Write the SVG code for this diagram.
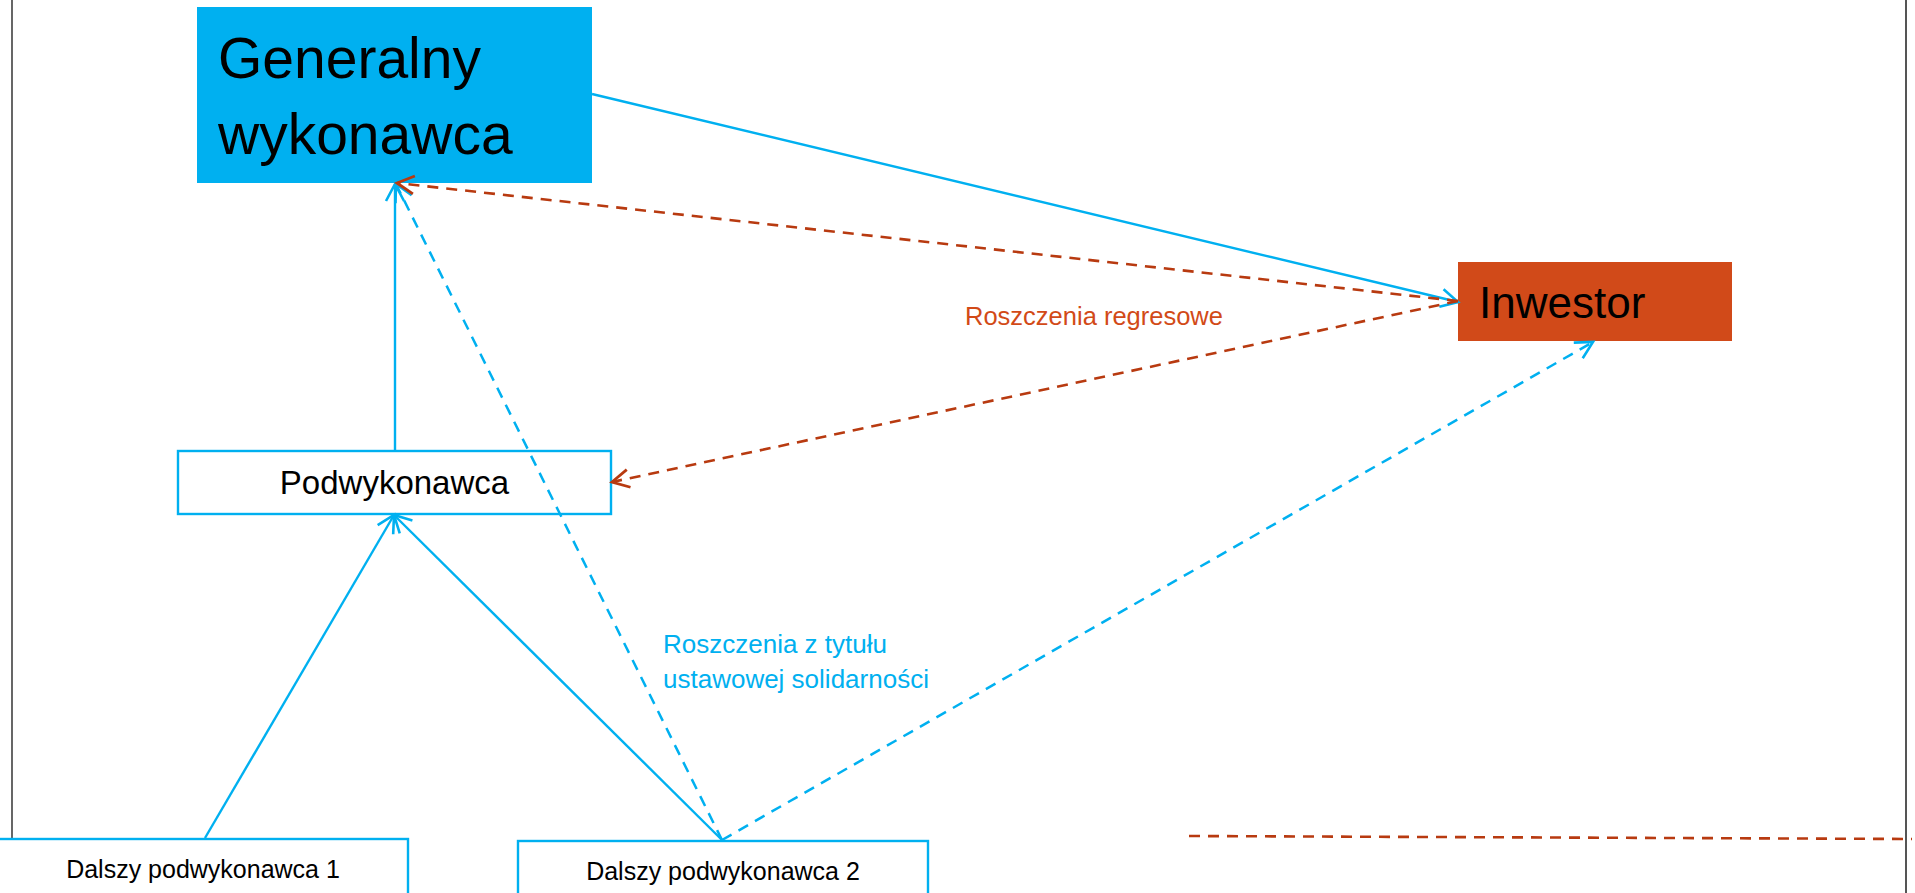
<svg xmlns="http://www.w3.org/2000/svg" width="1915" height="893" viewBox="0 0 1915 893">
<style>
text{font-family:"Liberation Sans",Arial,sans-serif;}
.blue{stroke:#00B0F0;stroke-width:2.4;fill:none;}
.bdash{stroke:#00B0F0;stroke-width:2.5;fill:none;stroke-dasharray:11 8;}
.rdash{stroke:#B83A10;stroke-width:2.6;fill:none;stroke-dasharray:11 8;}
.box{fill:#fff;stroke:#00B0F0;stroke-width:2.4;}
</style>
<defs>
<marker id="ab" markerUnits="userSpaceOnUse" markerWidth="40" markerHeight="40" refX="0" refY="0" viewBox="-20 -20 40 40" orient="auto" overflow="visible">
<path d="M-17,-9 L0,0 L-17,9" fill="none" stroke="#00B0F0" stroke-width="2.6" stroke-dasharray="none"/>
</marker>
<marker id="ar" markerUnits="userSpaceOnUse" markerWidth="40" markerHeight="40" refX="0" refY="0" viewBox="-20 -20 40 40" orient="auto" overflow="visible">
<path d="M-17,-9 L0,0 L-17,9" fill="none" stroke="#B83A10" stroke-width="2.8" stroke-dasharray="none"/>
</marker>
</defs>
<rect x="0" y="0" width="1915" height="893" fill="#fff"/>
<line x1="12" y1="0" x2="12" y2="893" stroke="#000" stroke-width="1.2"/>
<line x1="1906" y1="0" x2="1906" y2="893" stroke="#555" stroke-width="2"/>

<g id="generalny">
<rect x="197" y="7" width="395" height="176" fill="#00B0F0"/>
<text x="218" y="78" font-size="57" fill="#000">Generalny</text>
<text x="218" y="154" font-size="57" fill="#000">wykonawca</text>
</g>
<g id="inwestor">
<rect x="1458" y="262" width="274" height="79" fill="#D14A19"/>
<text x="1479" y="318" font-size="44" fill="#000">Inwestor</text>
</g>
<g id="podwykonawca">
<rect class="box" x="178" y="451" width="433" height="63"/>
<text x="394.5" y="494" font-size="33" fill="#000" text-anchor="middle">Podwykonawca</text>
</g>
<g id="dalszy1">
<rect class="box" x="-2" y="839" width="410" height="70"/>
<text x="203" y="878" font-size="25" fill="#000" text-anchor="middle">Dalszy podwykonawca 1</text>
</g>
<g id="dalszy2">
<rect class="box" x="518" y="841" width="410" height="70"/>
<text x="723" y="880" font-size="25" fill="#000" text-anchor="middle">Dalszy podwykonawca 2</text>
</g>

<g id="connectors">
<line class="blue" x1="205" y1="838" x2="394" y2="515" marker-end="url(#ab)"/>
<line class="blue" x1="722" y1="840" x2="394" y2="515" marker-end="url(#ab)"/>
<line class="blue" x1="395" y1="451" x2="395" y2="184" marker-end="url(#ab)"/>
<line class="blue" x1="592" y1="94" x2="1458" y2="302" marker-end="url(#ab)"/>
<line class="bdash" x1="722" y1="840" x2="396" y2="184" marker-end="url(#ab)"/>
<line class="bdash" x1="722" y1="840" x2="1593" y2="342" marker-end="url(#ab)"/>
<line class="rdash" x1="1458" y1="301" x2="397" y2="183" marker-end="url(#ar)"/>
<line class="rdash" x1="1458" y1="301" x2="612" y2="482" marker-end="url(#ar)"/>
<line class="rdash" x1="1189" y1="836" x2="1912" y2="839"/>
</g>

<g id="labels">
<text x="965" y="325" font-size="25.5" fill="#D24A17">Roszczenia regresowe</text>
<text x="663" y="653" font-size="26" fill="#00B0F0">Roszczenia z tytułu</text>
<text x="663" y="688" font-size="26" fill="#00B0F0">ustawowej solidarności</text>
</g>
</svg>
